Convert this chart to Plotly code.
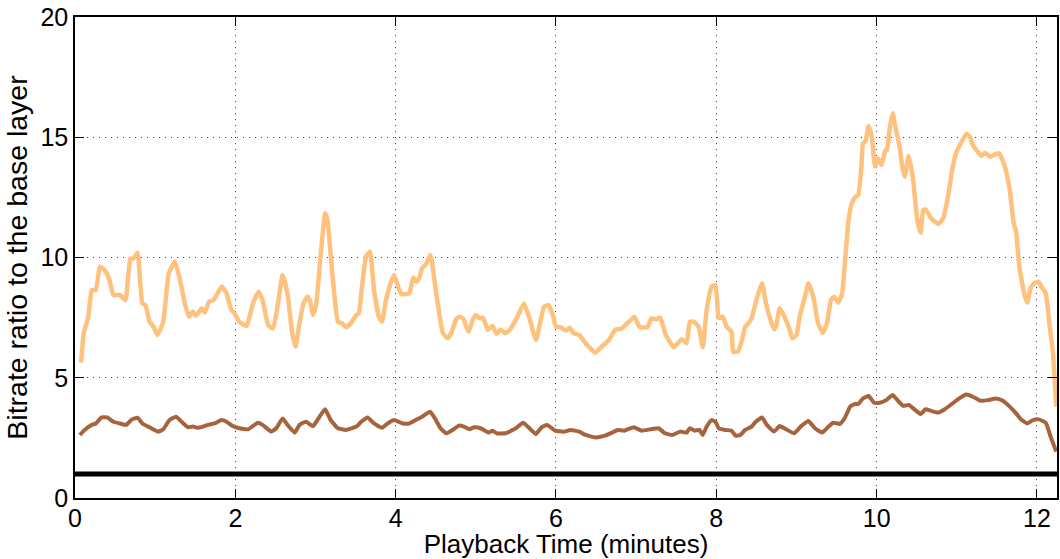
import plotly.graph_objects as go

# Enhancement layer (orange)
enh_x = [0.075, 0.11, 0.166, 0.21, 0.26, 0.31, 0.37, 0.43, 0.48, 0.56, 0.63, 0.69, 0.73, 0.78, 0.84, 0.88,
         0.93, 0.98, 1.03, 1.10, 1.17, 1.245, 1.31, 1.37, 1.42, 1.47, 1.51, 1.58, 1.62, 1.67, 1.73, 1.83,
         1.89, 1.95, 1.99, 2.05, 2.14, 2.22, 2.29, 2.34, 2.41, 2.47, 2.52, 2.59, 2.65, 2.71, 2.75, 2.80,
         2.85, 2.90, 2.93, 2.97, 3.01, 3.07, 3.12, 3.15, 3.21, 3.28, 3.33, 3.38, 3.44, 3.51, 3.54, 3.58,
         3.63, 3.68, 3.73, 3.79, 3.83, 3.88, 3.93, 3.98, 4.03, 4.07, 4.13, 4.17, 4.22, 4.26, 4.29, 4.33,
         4.38, 4.43, 4.45, 4.50, 4.55, 4.59, 4.65, 4.70, 4.75, 4.79, 4.84, 4.91, 4.96, 5.00, 5.05, 5.09,
         5.15, 5.21, 5.26, 5.31, 5.37, 5.43, 5.52, 5.60, 5.67, 5.75, 5.80, 5.85, 5.91, 5.96, 6.00, 6.06,
         6.12, 6.17, 6.22, 6.29, 6.37, 6.43, 6.49, 6.57, 6.66, 6.74, 6.82, 6.91, 6.98, 7.04, 7.14, 7.19,
         7.25, 7.30, 7.37, 7.47, 7.57, 7.63, 7.67, 7.72, 7.78, 7.83, 7.88, 7.94, 7.99, 8.03, 8.08, 8.13,
         8.19, 8.21, 8.27, 8.32, 8.36, 8.40, 8.44, 8.50, 8.57, 8.62, 8.67, 8.72, 8.75, 8.79, 8.85, 8.91,
         8.95, 9.00, 9.04, 9.10, 9.15, 9.21, 9.27, 9.33, 9.38, 9.43, 9.47, 9.52, 9.57, 9.61, 9.65, 9.69,
         9.73, 9.77, 9.81, 9.83, 9.86, 9.90, 9.94, 9.98, 10.02, 10.06, 10.11, 10.13, 10.16, 10.20, 10.23,
         10.29, 10.32, 10.35, 10.40, 10.45, 10.51, 10.55, 10.58, 10.61, 10.68, 10.77, 10.83, 10.89, 10.95,
         10.99, 11.05, 11.12, 11.16, 11.20, 11.26, 11.31, 11.35, 11.42, 11.48, 11.53, 11.60, 11.66, 11.71,
         11.74, 11.78, 11.84, 11.88, 11.92, 11.97, 12.02, 12.06, 12.11, 12.15, 12.20, 12.24]
enh_y = [5.63, 6.86, 7.54, 8.65, 8.65, 9.62, 9.48, 9.06, 8.44, 8.44, 8.23, 9.96, 9.96, 10.2, 8.09, 8.02,
         7.33, 7.12, 6.78, 7.33, 9.34, 9.83, 9.06, 8.09, 7.54, 7.75, 7.57, 7.89, 7.71, 8.16, 8.23, 8.79,
         8.51, 7.82, 7.68, 7.33, 7.15, 8.09, 8.58, 8.23, 7.19, 7.05, 7.82, 9.27, 8.51, 6.85, 6.29, 7.26,
         8.09, 8.37, 8.23, 7.61, 8.09, 10.31, 11.84, 11.56, 9.34, 7.33, 7.26, 7.10, 7.26, 7.61, 7.68, 8.79,
         10.03, 10.24, 8.65, 7.54, 7.33, 8.23, 8.86, 9.27, 8.79, 8.48, 8.48, 8.51, 9.17, 8.99, 9.13, 9.55,
         9.73, 10.10, 9.90, 8.65, 7.54, 6.85, 6.64, 6.91, 7.40, 7.54, 7.47, 6.91, 7.40, 7.61, 7.47, 7.50,
         6.99, 7.15, 6.82, 7.01, 6.85, 7.01, 7.54, 8.09, 7.47, 6.57, 7.26, 7.95, 8.02, 7.61, 7.12, 7.10,
         6.96, 7.08, 6.85, 6.78, 6.43, 6.22, 6.04, 6.29, 6.57, 6.99, 7.05, 7.33, 7.54, 7.12, 7.10, 7.47,
         7.43, 7.51, 6.78, 6.27, 6.60, 6.43, 7.33, 7.33, 7.12, 6.27, 7.82, 8.79, 8.86, 7.47, 7.54, 7.12,
         6.91, 6.08, 6.08, 6.57, 7.12, 7.26, 7.47, 8.23, 8.93, 8.09, 7.47, 7.01, 7.19, 7.89, 7.54, 7.05,
         6.64, 6.78, 7.54, 8.30, 8.93, 8.37, 7.26, 6.87, 7.26, 8.23, 8.37, 8.12, 8.51, 10.03, 11.56, 12.25,
         12.50, 12.60, 13.78, 14.75, 14.82, 15.47, 15.02, 13.78, 14.12, 13.85, 14.47, 14.47, 15.30, 16.0, 15.51,
         14.54, 13.78, 13.36, 14.22, 13.36, 11.49, 11.03, 11.97, 12.00, 11.63, 11.39, 11.63, 12.53, 13.78,
         14.33, 14.75, 15.14, 15.05, 14.68, 14.40, 14.22, 14.36, 14.19, 14.30, 14.33, 13.78, 12.81, 11.42,
         11.07, 9.62, 8.51, 8.12, 8.72, 8.95, 8.99, 8.76, 8.51, 7.40, 6.02, 3.80]

# Base + first enhancement (brown)
mid_x = [0.06, 0.12, 0.21, 0.26, 0.33, 0.40, 0.48, 0.56, 0.64, 0.71, 0.78, 0.84, 0.93, 1.04, 1.10, 1.18,
         1.26, 1.33, 1.41, 1.47, 1.53, 1.60, 1.66, 1.74, 1.83, 1.89, 1.97, 2.05, 2.16, 2.28, 2.34, 2.45,
         2.51, 2.59, 2.65, 2.74, 2.80, 2.88, 2.97, 3.05, 3.12, 3.19, 3.28, 3.38, 3.51, 3.57, 3.65, 3.73,
         3.83, 3.90, 3.98, 4.09, 4.17, 4.25, 4.33, 4.43, 4.49, 4.56, 4.63, 4.71, 4.79, 4.85, 4.92, 4.98,
         5.06, 5.16, 5.21, 5.26, 5.37, 5.50, 5.59, 5.67, 5.75, 5.82, 5.89, 5.99, 6.10, 6.18, 6.29, 6.37,
         6.49, 6.60, 6.70, 6.77, 6.85, 6.97, 7.07, 7.18, 7.28, 7.36, 7.45, 7.55, 7.63, 7.67, 7.73, 7.79,
         7.83, 7.88, 7.94, 7.99, 8.03, 8.11, 8.19, 8.24, 8.30, 8.36, 8.44, 8.48, 8.57, 8.63, 8.72, 8.79,
         8.87, 8.97, 9.06, 9.15, 9.23, 9.32, 9.40, 9.46, 9.54, 9.60, 9.67, 9.73, 9.77, 9.83, 9.90, 9.97,
         10.04, 10.12, 10.20, 10.26, 10.33, 10.40, 10.47, 10.55, 10.61, 10.68, 10.77, 10.85, 10.95, 11.03,
         11.12, 11.20, 11.29, 11.39, 11.49, 11.57, 11.66, 11.74, 11.80, 11.88, 11.95, 12.02, 12.11, 12.17,
         12.24]
mid_y = [2.62, 2.83, 3.04, 3.10, 3.35, 3.35, 3.17, 3.10, 3.04, 3.27, 3.34, 3.10, 2.94, 2.76, 2.86, 3.24,
         3.38, 3.17, 2.94, 2.97, 2.92, 2.97, 3.04, 3.10, 3.24, 3.17, 2.99, 2.90, 2.86, 3.13, 3.04, 2.76,
         2.90, 3.31, 3.04, 2.72, 3.04, 3.17, 2.99, 3.38, 3.69, 3.24, 2.90, 2.83, 2.97, 3.17, 3.35, 3.10,
         2.92, 3.10, 3.24, 3.10, 3.10, 3.24, 3.38, 3.59, 3.31, 2.90, 2.69, 2.83, 3.01, 2.97, 2.86, 2.94,
         2.90, 2.72, 2.80, 2.69, 2.69, 2.90, 3.13, 2.90, 2.66, 2.94, 3.04, 2.80, 2.76, 2.83, 2.76, 2.62,
         2.52, 2.58, 2.72, 2.83, 2.80, 2.94, 2.80, 2.86, 2.90, 2.69, 2.62, 2.76, 2.72, 2.90, 2.80, 2.83,
         2.62, 2.97, 3.24, 3.17, 2.90, 2.83, 2.80, 2.59, 2.62, 2.83, 2.97, 3.13, 3.35, 3.04, 2.76, 2.99,
         2.86, 2.69, 2.99, 3.20, 2.90, 2.72, 2.97, 3.13, 3.08, 3.31, 3.80, 3.91, 3.91, 4.14, 4.24, 3.96,
         3.96, 4.07, 4.28, 4.07, 3.83, 3.87, 3.69, 3.49, 3.69, 3.62, 3.55, 3.69, 3.94, 4.14,
         4.30, 4.21, 4.05, 4.07, 4.14, 4.05, 3.80, 3.52, 3.27, 3.10, 3.24, 3.27, 3.13, 2.55,
         1.93]

# Base layer (black)
base_x = [0, 12.25]
base_y = [1, 1]

x_ticks = [0, 2, 4, 6, 8, 10, 12]
y_ticks = [0, 5, 10, 15, 20]

FONT = "Liberation Sans, Arial, sans-serif"

fig = go.Figure()
fig.add_trace(go.Scatter(x=enh_x, y=enh_y, mode="lines",
                         line=dict(color="#FFC27E", width=4.5, shape="spline", smoothing=0.4),
                         showlegend=False))
fig.add_trace(go.Scatter(x=mid_x, y=mid_y, mode="lines",
                         line=dict(color="#A5643E", width=4, shape="spline", smoothing=0.4),
                         showlegend=False))
fig.add_trace(go.Scatter(x=base_x, y=base_y, mode="lines",
                         line=dict(color="#000000", width=5), showlegend=False))

axis_common = dict(
    showline=True, linecolor="black", linewidth=1.5, mirror="ticks",
    ticks="inside", ticklen=9, tickwidth=1.2, tickcolor="black",
    showgrid=True, gridcolor="rgba(0,0,0,0.75)", griddash="1px,5px", gridwidth=1,
    zeroline=False,
    tickfont=dict(family=FONT, size=25, color="black"),
)

fig.update_xaxes(range=[0, 12.25], tickvals=x_ticks, ticktext=[str(v) for v in x_ticks],
                 ticklabelstandoff=-3,
                 title=dict(text="Playback Time (minutes)", font=dict(family=FONT, size=26, color="black"),
                            standoff=0),
                 **axis_common)
fig.update_yaxes(range=[0, 20], tickvals=y_ticks, ticktext=[str(v) for v in y_ticks],
                 title=dict(text="Bitrate ratio to the base layer", font=dict(family=FONT, size=28.5, color="black"),
                            standoff=4),
                 **axis_common)

fig.update_layout(
    width=1060, height=559,
    margin=dict(l=75, r=1, t=17, b=61),
    plot_bgcolor="white", paper_bgcolor="white",
    showlegend=False,
)

fig.write_html("out.html")
